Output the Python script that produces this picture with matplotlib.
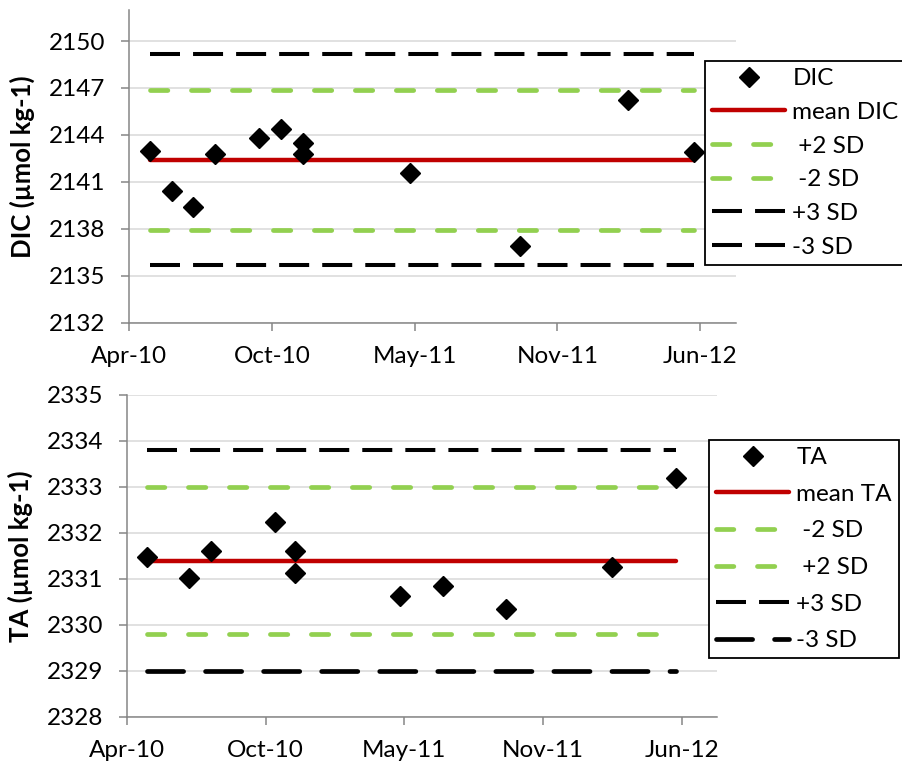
import datetime as dt

import matplotlib
matplotlib.use("Agg")
import matplotlib.dates as mdates
import matplotlib.pyplot as plt

plt.rcParams["font.family"] = ["Lato", "DejaVu Sans"]
plt.rcParams["lines.scale_dashes"] = False

# DIC control samples
dic_dates = ["2010-04-30", "2010-05-31", "2010-06-30", "2010-07-31", "2010-09-30",
             "2010-10-31", "2010-11-30", "2010-11-30", "2011-04-30", "2011-09-30",
             "2012-02-29", "2012-05-31"]
dic_values = [2143.0, 2140.4, 2139.4, 2142.8, 2143.8, 2144.4, 2143.5, 2142.8,
              2141.55, 2136.9, 2146.2, 2142.9]
dic_mean = 2142.42
dic_sd = 2.24

# TA control samples
ta_dates = ["2010-04-30", "2010-06-30", "2010-07-31", "2010-10-31", "2010-11-30",
            "2010-11-30", "2011-04-30", "2011-06-30", "2011-09-30", "2012-02-29",
            "2012-05-31"]
ta_values = [2331.48, 2331.02, 2331.61, 2332.23, 2331.61, 2331.13, 2330.62,
             2330.85, 2330.34, 2331.25, 2333.20]
ta_mean = 2331.39
ta_sd = 0.80

x_start = dt.date(2010, 4, 1)
x_span_days = 850
tick_step_days = 200

RED = "#c00000"
GREEN = "#92d050"
GRID = "#d9d9d9"
AXIS = "#868686"
FS = 17.5


def to_dates(strings):
    return [dt.date.fromisoformat(s) for s in strings]


def style_axis(ax, ymin, ymax, ystep):
    ax.set_xlim(x_start, x_start + dt.timedelta(days=x_span_days))
    ticks = [x_start + dt.timedelta(days=tick_step_days * i) for i in range(5)]
    ax.set_xticks(ticks)
    ax.xaxis.set_major_formatter(mdates.DateFormatter("%b-%y"))
    ax.set_ylim(ymin, ymax)
    yt = []
    v = ymin
    while v <= ymax + 1e-9:
        yt.append(v)
        v += ystep
    ax.set_yticks(yt)
    ax.yaxis.grid(True, color=GRID, lw=1.1)
    ax.set_axisbelow(True)
    for side in ("top", "right"):
        ax.spines[side].set_visible(False)
    for side in ("left", "bottom"):
        ax.spines[side].set_color(AXIS)
        ax.spines[side].set_linewidth(1.1)
    ax.tick_params(axis="both", colors=AXIS, labelcolor="black", labelsize=FS,
                   length=6, width=1.1, direction="out")
    ax.tick_params(axis="y", pad=11)
    ax.tick_params(axis="x", pad=11)


def draw_panel(ax, dates, values, mean, sd, name, order, minus3_style):
    d = to_dates(dates)
    x0, x1 = d[0], d[-1]
    lines = {}
    lines["mean"], = ax.plot([x0, x1], [mean, mean], color=RED, lw=3.2,
                             solid_capstyle="round")
    green_kw = dict(color=GREEN, lw=3.4, dashes=(12.5, 17), dash_capstyle="round")
    lines["+2"], = ax.plot([x0, x1], [mean + 2 * sd] * 2, **green_kw)
    lines["-2"], = ax.plot([x0, x1], [mean - 2 * sd] * 2, **green_kw)
    lines["+3"], = ax.plot([x0, x1], [mean + 3 * sd] * 2, color="black", lw=2.9,
                           dashes=(21.6, 9.4))
    lines["-3"], = ax.plot([x0, x1], [mean - 3 * sd] * 2, **minus3_style)
    lines["pts"], = ax.plot(d, values, linestyle="none", marker="D", ms=10,
                            color="black", zorder=5)
    labels = {"pts": name, "mean": "mean " + name, "+2": " +2 SD", "-2": " -2 SD",
              "+3": "+3 SD", "-3": "-3 SD"}
    return [lines[k] for k in order], [labels[k] for k in order]


fig = plt.figure(figsize=(9.03, 7.65), dpi=100)
W, H = 903, 765

# top panel: DIC
ax1 = fig.add_axes([129 / W, 1 - 322.7 / H, 607 / W, 313 / H])
style_axis(ax1, 2132, 2152, 3)
ax1.set_yticks(range(2132, 2151, 3))
h1, l1 = draw_panel(ax1, dic_dates, dic_values, dic_mean, dic_sd, "DIC",
                    ["pts", "mean", "+2", "-2", "+3", "-3"],
                    dict(color="black", lw=2.9, dashes=(21.6, 9.4)))
ax1.set_ylabel("DIC (µmol kg-1)", fontsize=18.5, fontweight="bold")
ax1.yaxis.set_label_coords(-0.155, 0.5)

# bottom panel: TA
ax2 = fig.add_axes([126.7 / W, 1 - 716.7 / H, 590 / W, 322 / H])
style_axis(ax2, 2328, 2335, 1)
h2, l2 = draw_panel(ax2, ta_dates, ta_values, ta_mean, ta_sd, "TA",
                    ["pts", "mean", "-2", "+2", "+3", "-3"],
                    dict(color="black", lw=3.4, dashes=(26, 15.8),
                         dash_capstyle="round"))
ax2.set_ylabel("TA (µmol kg-1)", fontsize=18.5, fontweight="bold")
ax2.yaxis.set_label_coords(-0.159, 0.5)

leg_kw = dict(loc="upper left", bbox_transform=fig.transFigure, fontsize=FS,
              frameon=True, fancybox=False, framealpha=1, edgecolor="black",
              handlelength=3.0, handletextpad=0.3, borderpad=0.3,
              borderaxespad=0, numpoints=1)
leg1 = ax1.legend(h1, l1, bbox_to_anchor=(705 / W, 1 - 61 / H),
                  labelspacing=0.52, **leg_kw)
leg2 = ax2.legend(h2, l2, bbox_to_anchor=(709 / W, 1 - 440 / H),
                  labelspacing=0.64, **leg_kw)
for leg in (leg1, leg2):
    leg.get_frame().set_linewidth(1.3)

fig.savefig("out.png", dpi=100)
